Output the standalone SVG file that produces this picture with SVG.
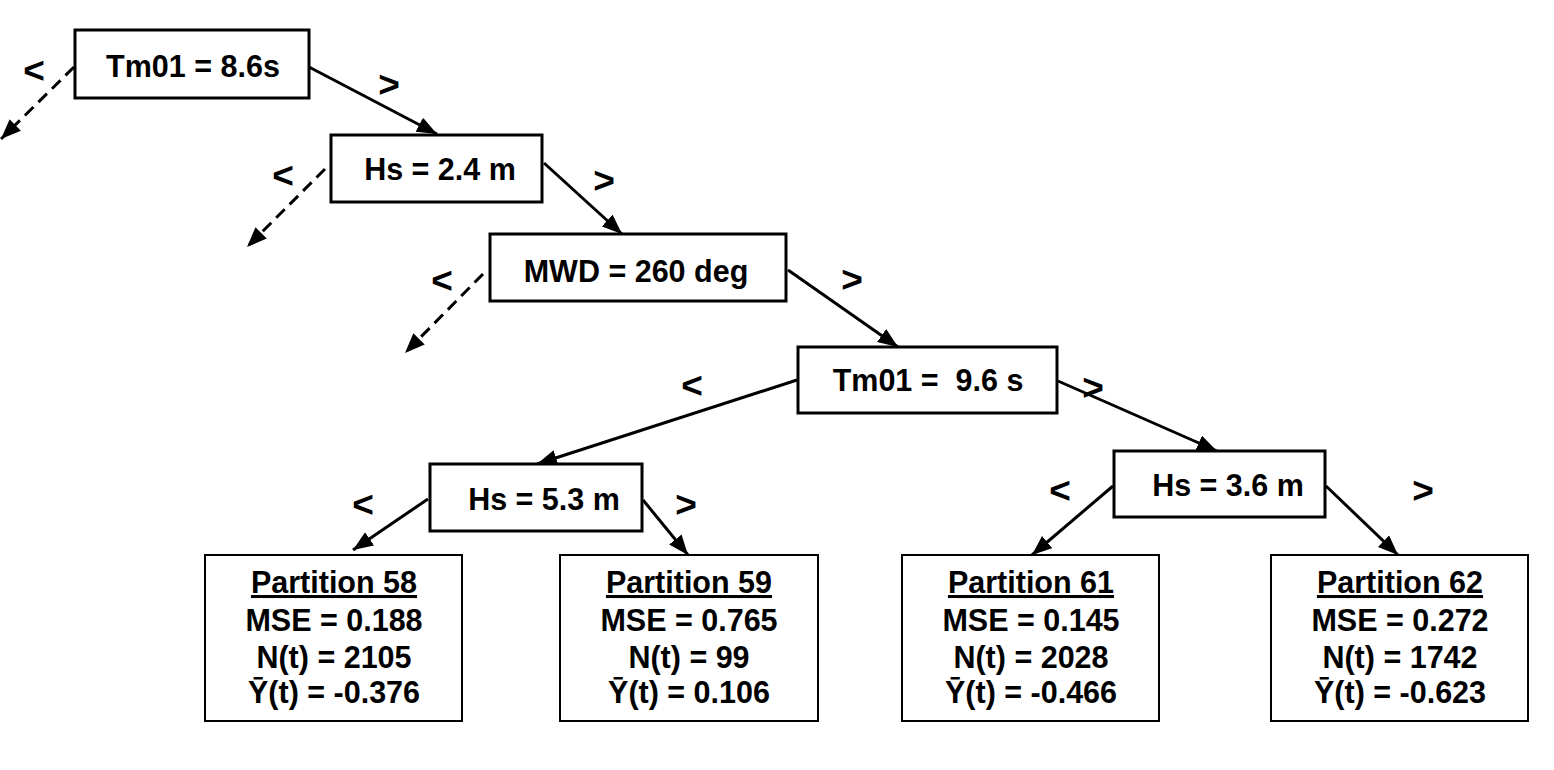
<svg xmlns="http://www.w3.org/2000/svg" width="1554" height="770" viewBox="0 0 1554 770">
<style>
.node{fill:#fff;stroke:#000;stroke-width:3}
.leaf{fill:#fff;stroke:#000;stroke-width:2}
text{font-family:"Liberation Sans",Arial,sans-serif;font-weight:bold;font-size:30.5px;fill:#000;text-anchor:middle;white-space:pre}
.lbl{font-size:37px}
.edge{stroke:#000;stroke-width:3;fill:none;marker-end:url(#ah)}
.dash{stroke-dasharray:12 7}
</style>
<defs>
<marker id="ah" markerUnits="userSpaceOnUse" markerWidth="22" markerHeight="18" refX="20" refY="8" orient="auto">
<path d="M0,0 L20,8 L0,16 z" fill="#000"/>
</marker>
</defs>
<rect width="1554" height="770" fill="#fff"/>
<g id="connectors">
<line class="edge dash" x1="74" y1="67" x2="1" y2="139"/>
<line class="edge" x1="309" y1="67" x2="437" y2="134"/>
<line class="edge dash" x1="325" y1="169" x2="247" y2="247"/>
<line class="edge" x1="544" y1="163" x2="622" y2="234"/>
<line class="edge dash" x1="483" y1="274" x2="405" y2="353"/>
<line class="edge" x1="788" y1="270" x2="898" y2="347"/>
<line class="edge" x1="797" y1="380" x2="537" y2="464"/>
<line class="edge" x1="1058" y1="381" x2="1217" y2="451"/>
<line class="edge" x1="428" y1="499" x2="353" y2="550"/>
<line class="edge" x1="643" y1="500" x2="688" y2="555"/>
<line class="edge" x1="1113" y1="486" x2="1032" y2="555"/>
<line class="edge" x1="1326" y1="486" x2="1398" y2="555"/>
</g>
<g id="labels">
<text class="lbl" x="34" y="83">&lt;</text>
<text class="lbl" x="389" y="97">&gt;</text>
<text class="lbl" x="283" y="188">&lt;</text>
<text class="lbl" x="604" y="193">&gt;</text>
<text class="lbl" x="442" y="293">&lt;</text>
<text class="lbl" x="852" y="292">&gt;</text>
<text class="lbl" x="692" y="398">&lt;</text>
<text class="lbl" x="1093" y="400">&gt;</text>
<text class="lbl" x="363" y="517">&lt;</text>
<text class="lbl" x="686" y="517">&gt;</text>
<text class="lbl" x="1060" y="503">&lt;</text>
<text class="lbl" x="1423" y="503">&gt;</text>
</g>
<g id="n_tm01_86">
<rect class="node" x="75" y="30" width="234" height="68"/>
<text x="193" y="77">Tm01 = 8.6s</text>
</g>
<g id="n_hs_24">
<rect class="node" x="331" y="135" width="211" height="67"/>
<text x="440" y="180">Hs = 2.4 m</text>
</g>
<g id="n_mwd_260">
<rect class="node" x="490" y="234" width="296" height="67"/>
<text x="636" y="282">MWD = 260 deg</text>
</g>
<g id="n_tm01_96">
<rect class="node" x="798" y="347" width="259" height="66"/>
<text x="928" y="391">Tm01 =  9.6 s</text>
</g>
<g id="n_hs_53">
<rect class="node" x="430" y="464" width="212" height="67"/>
<text x="544" y="510">Hs = 5.3 m</text>
</g>
<g id="n_hs_36">
<rect class="node" x="1114" y="451" width="211" height="66"/>
<text x="1228" y="496">Hs = 3.6 m</text>
</g>
<g id="p58">
<rect class="leaf" x="205" y="555" width="257" height="166"/>
<text x="334" y="593" text-decoration="underline">Partition 58</text>
<text x="334" y="631">MSE = 0.188</text>
<text x="334" y="668">N(t) = 2105</text>
<text x="334" y="703">Ȳ(t) = -0.376</text>
</g>
<g id="p59">
<rect class="leaf" x="560" y="555" width="258" height="166"/>
<text x="689" y="593" text-decoration="underline">Partition 59</text>
<text x="689" y="631">MSE = 0.765</text>
<text x="689" y="668">N(t) = 99</text>
<text x="689" y="703">Ȳ(t) = 0.106</text>
</g>
<g id="p61">
<rect class="leaf" x="902" y="555" width="257" height="166"/>
<text x="1031" y="593" text-decoration="underline">Partition 61</text>
<text x="1031" y="631">MSE = 0.145</text>
<text x="1031" y="668">N(t) = 2028</text>
<text x="1031" y="703">Ȳ(t) = -0.466</text>
</g>
<g id="p62">
<rect class="leaf" x="1271" y="555" width="257" height="166"/>
<text x="1400" y="593" text-decoration="underline">Partition 62</text>
<text x="1400" y="631">MSE = 0.272</text>
<text x="1400" y="668">N(t) = 1742</text>
<text x="1400" y="703">Ȳ(t) = -0.623</text>
</g>
</svg>
